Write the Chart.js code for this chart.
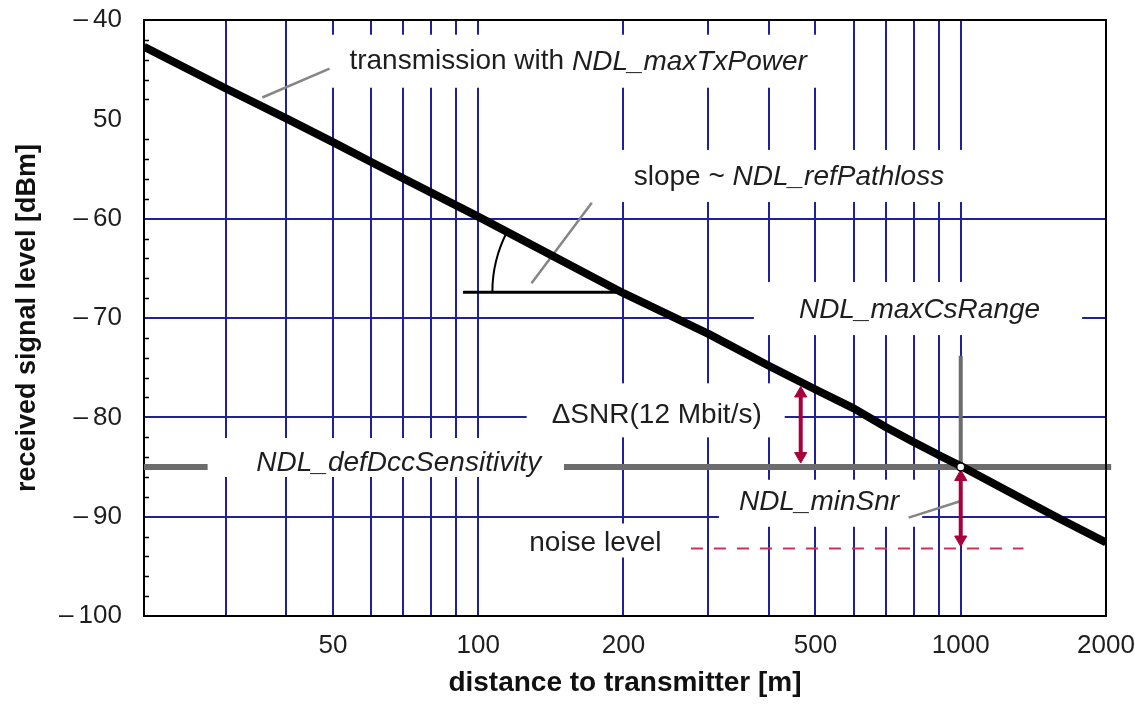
<!DOCTYPE html>
<html>
<head>
<meta charset="utf-8">
<script src="https://cdn.jsdelivr.net/npm/chart.js@4.4.1/dist/chart.umd.min.js"></script>
<style>
  html, body { margin: 0; padding: 0; background: #fff; }
  #wrap { width: 1135px; height: 706px; }
</style>
</head>
<body>
<div id="wrap"><canvas id="chart" width="1135" height="706"></canvas></div>
<script>
// ------------------------------------------------------
// @Data
// ------------------------------------------------------

const distances   = [20.3, 30, 40, 50, 60, 100, 200, 300, 400, 500, 600, 700, 800, 900, 1000, 1574, 2000];
const signalLevel = [-42.7, -46.9, -49.9, -52.3, -54.3, -59.8, -67.5, -71.6, -74.8, -77.2, -79.1, -81.0, -82.5, -83.8, -84.9, -90.0, -92.6];

const xGridValues  = [30, 40, 50, 60, 70, 80, 90, 100, 200, 300, 400, 500, 600, 700, 800, 900, 1000, 2000];
const xLabelValues = [50, 100, 200, 500, 1000, 2000];

const yTickValues = [-100, -90, -80, -70, -60, -50, -40];
const yTickLabels = ['\u2013\u2009100', '\u2013\u200990', '\u2013\u200980', '\u2013\u200970', '\u2013\u200960', '50', '\u2013\u200940'];
const yGridValues = [-60, -70, -80, -90];
const yMinorTicks = [-42, -44, -46, -48, -52, -54, -56, -58, -62, -64, -66, -68, -72, -74, -76, -78, -82, -84, -86, -88, -92, -94, -96, -98];

const sensitivityLevel = -85;
const sensitivityLeftX  = [20.3, 27.5];
const sensitivityRightX = [150.6, 2050];

const csRangeX = 1000;
const csRangeY = [-73.8, -85];

const snrArrowX    = 466;
const snrArrowY    = [-77.6, -83.9];
const minSnrArrowY = [-86.0, -92.3];

const noiseLevel  = -93.2;
const noiseRangeX = [276, 1349];

const slopeLineX = [93, 200];
const slopeLineY = -67.4;
const slopeArcStartX = 107;

const txLeaderX    = [35.7, 49.2];
const txLeaderY    = [-47.8, -44.9];
const slopeLeaderX = [129, 172];
const slopeLeaderY = [-66.5, -58.4];
const snrLeaderX   = [780, 1005];
const snrLeaderY   = [-90.1, -88.4];

// text annotations: anchor = left edge / vertical middle of the text, in data units
const noteLabels = [
  { x: 54.1, y: -44.2, pad: [20, 12, 27, 26], parts: [['transmission with ', false], ['NDL_maxTxPower', true]] },
  { x: 210,  y: -55.8, pad: [35, 26, 27, 25], parts: [['slope ~ ', false], ['NDL_refPathloss', true]] },
  { x: 462,  y: -69.2, pad: [45, 42, 28, 25], parts: [['NDL_maxCsRange', true]] },
  { x: 142,  y: -79.8, pad: [25, 23, 32, 22], parts: [['\u0394SNR(12 Mbit/s)', false]] },
  { x: 34.7, y: -84.6, pad: [49, 16, 25, 14], parts: [['NDL_defDccSensitivity', true]] },
  { x: 347,  y: -88.5, pad: [20, 23, 22, 25], parts: [['NDL_minSnr', true]] },
  { x: 127.6, y: -92.7, pad: [30, 22, 20, 14], parts: [['noise level', false]] },
];

// ------------------------------------------------------
// @Styles
// ------------------------------------------------------

const FONT = '"Liberation Sans", Arial, sans-serif';
const NAVY = '#20209a';
const GRAY = '#6c6c6c';
const LEADER = '#868686';
const RED = '#a8003c';

const pts = (xs, ys) => xs.map((x, i) => ({ x, y: Array.isArray(ys) ? ys[i] : ys }));

function textWidth(ctx, parts) {
  let w = 0;
  parts.forEach(([t, it]) => {
    ctx.font = (it ? 'italic ' : '') + '28px ' + FONT;
    w += ctx.measureText(t).width;
  });
  return w;
}

function labelBox(chart, n) {
  const { ctx, scales } = chart;
  const left = scales.x.getPixelForValue(n.x);
  const cy = scales.y.getPixelForValue(n.y);
  ctx.save();
  const w = textWidth(ctx, n.parts);
  ctx.restore();
  return { left, cy, x0: left - n.pad[0], x1: left + w + n.pad[1], y0: cy - n.pad[2], y1: cy + n.pad[3] };
}

const annotate = {
  id: 'annotate',
  beforeDatasetsDraw(chart) {
    const { ctx } = chart;
    ctx.save();
    ctx.fillStyle = '#fff';
    noteLabels.forEach((n) => {
      const b = labelBox(chart, n);
      ctx.fillRect(b.x0, b.y0, b.x1 - b.x0, b.y1 - b.y0);
    });
    ctx.restore();
  },
  afterDatasetsDraw(chart) {
    const { ctx, chartArea, scales } = chart;
    const xs = scales.x, ys = scales.y;
    ctx.save();

    // frame top / right
    ctx.strokeStyle = '#000';
    ctx.lineWidth = 2;
    ctx.beginPath();
    ctx.moveTo(chartArea.left, chartArea.top);
    ctx.lineTo(chartArea.right, chartArea.top);
    ctx.lineTo(chartArea.right, chartArea.bottom);
    ctx.stroke();

    // minor ticks on the y axis
    ctx.lineWidth = 1.5;
    ctx.beginPath();
    yMinorTicks.forEach((v) => {
      const y = Math.round(ys.getPixelForValue(v)) + 0.5;
      ctx.moveTo(chartArea.left, y);
      ctx.lineTo(chartArea.left + 5, y);
    });
    ctx.stroke();

    // slope angle arc
    const cx = xs.getPixelForValue(slopeLineX[1]);
    const cy = ys.getPixelForValue(slopeLineY);
    const r = cx - xs.getPixelForValue(slopeArcStartX);
    const dx = xs.getPixelForValue(distances[14]) - xs.getPixelForValue(distances[5]);
    const dy = ys.getPixelForValue(signalLevel[14]) - ys.getPixelForValue(signalLevel[5]);
    const a = Math.atan2(dy, dx);
    ctx.lineWidth = 2;
    ctx.beginPath();
    ctx.arc(cx, cy, r, Math.PI, Math.PI + a, false);
    ctx.stroke();

    // labels
    ctx.fillStyle = '#1e1e1e';
    ctx.textBaseline = 'middle';
    ctx.textAlign = 'left';
    noteLabels.forEach((n) => {
      const b = labelBox(chart, n);
      let x = b.left;
      n.parts.forEach(([t, it]) => {
        ctx.font = (it ? 'italic ' : '') + '28px ' + FONT;
        ctx.fillText(t, x, b.cy);
        x += ctx.measureText(t).width;
      });
    });
    ctx.restore();
  },
};

// ------------------------------------------------------
// @Chart
// ------------------------------------------------------

const lineSet = (data, color, width, order, extra) => Object.assign({
  data,
  borderColor: color,
  backgroundColor: color,
  borderWidth: width,
  pointRadius: 0,
  tension: 0,
  order,
}, extra || {});

new Chart(document.getElementById('chart').getContext('2d'), {
  type: 'line',
  data: {
    datasets: [
      lineSet([{ x: csRangeX, y: sensitivityLevel }], '#000', 1.5, 0, {
        pointRadius: 4, pointBackgroundColor: '#fff', pointBorderColor: '#000', pointBorderWidth: 1.5,
      }),
      lineSet(pts([snrArrowX, snrArrowX], snrArrowY), RED, 4, 1, {
        pointStyle: 'triangle', pointRadius: 7, pointRotation: [0, 180], pointBorderWidth: 1,
      }),
      lineSet(pts([csRangeX, csRangeX], minSnrArrowY), RED, 4, 1, {
        pointStyle: 'triangle', pointRadius: 7, pointRotation: [0, 180], pointBorderWidth: 1,
      }),
      lineSet(pts(distances, signalLevel), '#000', 8, 2, { borderJoinStyle: 'round', borderCapStyle: 'butt' }),
      lineSet(pts(sensitivityLeftX, sensitivityLevel), GRAY, 6, 3),
      lineSet(pts(sensitivityRightX, sensitivityLevel), GRAY, 6, 3, { clip: false }),
      lineSet(pts([csRangeX, csRangeX], csRangeY), GRAY, 4, 3),
      lineSet(pts(noiseRangeX, noiseLevel), '#c8325a', 2, 4, { borderDash: [12, 11] }),
      lineSet(pts(slopeLineX, slopeLineY), '#000', 3, 4),
      lineSet(pts(txLeaderX, txLeaderY), LEADER, 2.5, 4),
      lineSet(pts(slopeLeaderX, slopeLeaderY), LEADER, 2.5, 4),
      lineSet(pts(snrLeaderX, snrLeaderY), LEADER, 2.5, 4),
    ],
  },
  options: {
    responsive: false,
    animation: false,
    layout: { padding: { top: 20, right: 29, left: 0, bottom: 0 } },
    plugins: {
      legend: { display: false },
      tooltip: { enabled: false },
    },
    scales: {
      x: {
        type: 'logarithmic',
        min: 20.3,
        max: 2000,
        afterBuildTicks: (scale) => { scale.ticks = xGridValues.map((v) => ({ value: v })); },
        afterFit: (scale) => {
          scale.height = 90;
          scale.paddingLeft = 0;
          scale.paddingRight = 0;
        },
        grid: {
          drawTicks: false,
          lineWidth: 2,
          color: (c) => (c.tick && c.tick.value === 2000 ? 'rgba(0,0,0,0)' : NAVY),
        },
        border: { color: '#000', width: 2 },
        ticks: {
          autoSkip: false,
          maxRotation: 0,
          padding: 14,
          color: '#1e1e1e',
          font: { family: FONT, size: 26 },
          callback: (v) => (xLabelValues.includes(Number(v)) ? String(v) : ''),
        },
        title: {
          display: true,
          text: 'distance to transmitter [m]',
          color: '#111',
          font: { family: FONT, size: 28, weight: 'bold' },
          padding: { top: 0, bottom: 6 },
        },
      },
      y: {
        type: 'linear',
        min: -100,
        max: -40,
        afterBuildTicks: (scale) => { scale.ticks = yTickValues.map((v) => ({ value: v })); },
        afterFit: (scale) => {
          scale.width = 144;
          scale.paddingTop = 0;
          scale.paddingBottom = 0;
        },
        grid: {
          drawTicks: false,
          lineWidth: 2,
          color: (c) => (c.tick && yGridValues.includes(c.tick.value) ? NAVY : 'rgba(0,0,0,0)'),
        },
        border: { color: '#000', width: 2 },
        ticks: {
          padding: 22,
          color: '#1e1e1e',
          font: { family: FONT, size: 26 },
          callback: (v) => yTickLabels[yTickValues.indexOf(v)],
        },
        title: {
          display: true,
          text: 'received signal level [dBm]',
          color: '#111',
          font: { family: FONT, size: 27, weight: 'bold' },
          padding: { top: 11, bottom: 0 },
        },
      },
    },
  },
  plugins: [annotate],
});
</script>
</body>
</html>
